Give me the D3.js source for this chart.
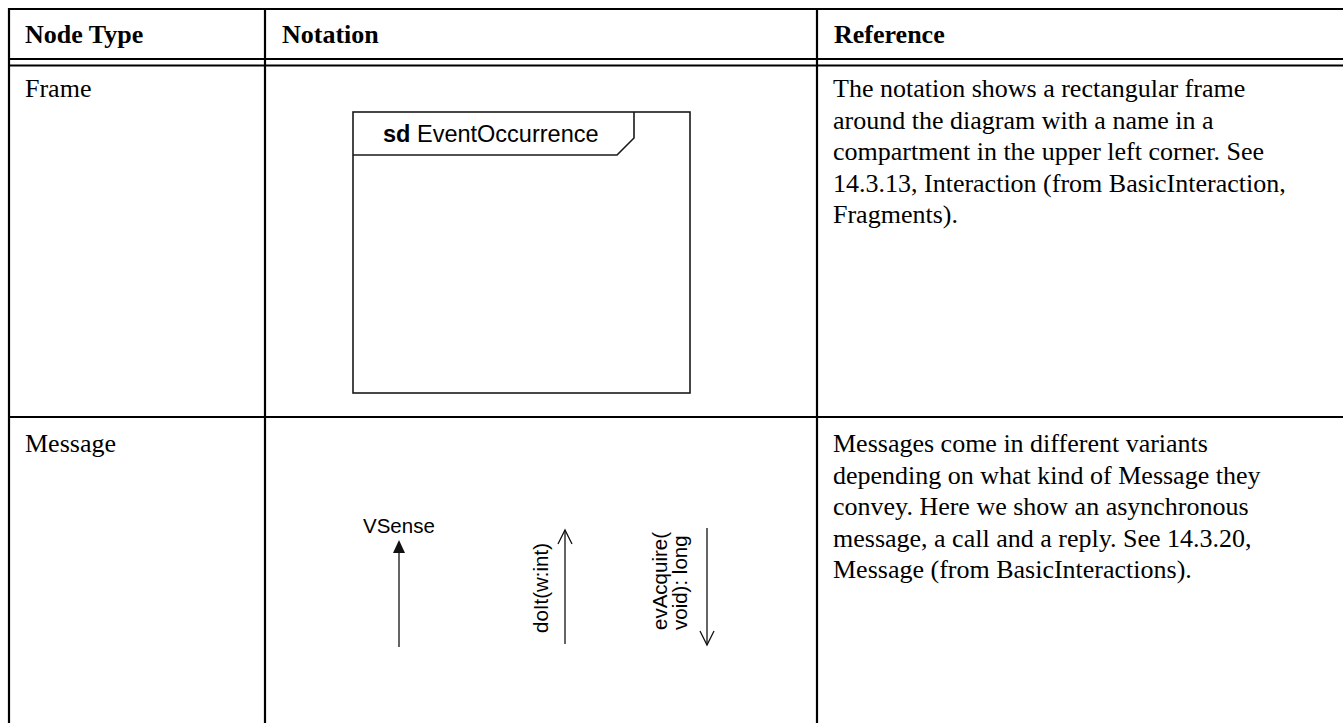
<!DOCTYPE html>
<html>
<head>
<meta charset="utf-8">
<script src="https://cdn.jsdelivr.net/npm/d3@7"></script>
<style>
  html, body { margin: 0; padding: 0; background: #fff; }
  svg { display: block; }
</style>
</head>
<body>
<svg id="chart" width="1343" height="723"></svg>
<script>
// ---------- data ----------
const columns = ["Node Type", "Notation", "Reference"];
const nodeTypes = ["Frame", "Message"];
const frameDescription = [
  "The notation shows a rectangular frame",
  "around the diagram with a name in a",
  "compartment in the upper left corner. See",
  "14.3.13, Interaction (from BasicInteraction,",
  "Fragments)."
];
const messageDescription = [
  "Messages come in different variants",
  "depending on what kind of Message they",
  "convey. Here we show an asynchronous",
  "message, a call and a reply. See 14.3.20,",
  "Message (from BasicInteractions)."
];
const frameKeyword = "sd";
const frameName = "EventOccurrence";
const messageLabels = ["VSense", "doIt(w:int)", ["evAcquire(", "void): long"]];
const messageKinds = ["async", "call", "reply"];

// ---------- layout ----------
const W = 1343, H = 723;
const svg = d3.select("#chart");
const serif = "'Liberation Serif', 'Times New Roman', serif";
const sans = "'Liberation Sans', Arial, sans-serif";

const colX = d3.scaleOrdinal().domain(columns).range([8, 265, 817]);
const textPad = 17;
const rowTop = d3.scaleOrdinal().domain(["header"].concat(nodeTypes)).range([9, 66, 417]);
const rowBaseline = d3.scaleOrdinal().domain(nodeTypes).range([97, 452]);
const lineH = 31.6;
const fs = 26;

// table lines
const black = "#000";
svg.append("line").attr("x1", 8).attr("x2", W).attr("y1", 9).attr("y2", 9)
  .attr("stroke", black).attr("stroke-width", 2.2);
svg.append("line").attr("x1", 9).attr("x2", 9).attr("y1", 8).attr("y2", H)
  .attr("stroke", black).attr("stroke-width", 2.2);
columns.slice(1).forEach(c => {
  svg.append("line").attr("x1", colX(c)).attr("x2", colX(c)).attr("y1", 8).attr("y2", H)
    .attr("stroke", black).attr("stroke-width", 2.2);
});
[59, 65.5].forEach(y => {
  svg.append("line").attr("x1", 8).attr("x2", W).attr("y1", y).attr("y2", y)
    .attr("stroke", black).attr("stroke-width", 2);
});
svg.append("line").attr("x1", 8).attr("x2", W).attr("y1", rowTop("Message")).attr("y2", rowTop("Message"))
  .attr("stroke", black).attr("stroke-width", 2.2);

// header
svg.selectAll("text.hdr").data(columns).join("text")
  .attr("class", "hdr")
  .attr("x", d => colX(d) + textPad)
  .attr("y", 43)
  .attr("font-family", serif).attr("font-weight", "bold").attr("font-size", fs)
  .attr("fill", black)
  .text(d => d);

// node type names
svg.selectAll("text.node").data(nodeTypes).join("text")
  .attr("class", "node")
  .attr("x", colX("Node Type") + textPad)
  .attr("y", d => rowBaseline(d))
  .attr("font-family", serif).attr("font-size", fs).attr("fill", black)
  .text(d => d);

// descriptions
[[nodeTypes[0], frameDescription], [nodeTypes[1], messageDescription]].forEach(([n, lines]) => {
  svg.append("g").selectAll("text").data(lines).join("text")
    .attr("x", colX("Reference") + textPad - 1)
    .attr("y", (d, i) => rowBaseline(n) + i * lineH)
    .attr("font-family", serif).attr("font-size", fs).attr("fill", black)
    .text(d => d);
});

// ---------- Frame notation ----------
const fx = d3.scaleLinear().domain([0, 1]).range([353, 690]);
const fy = d3.scaleLinear().domain([0, 1]).range([112, 393]);
const frameStroke = "#1a1a1a";
svg.append("rect")
  .attr("x", fx(0)).attr("y", fy(0)).attr("width", fx(1) - fx(0)).attr("height", fy(1) - fy(0))
  .attr("fill", "none").attr("stroke", frameStroke).attr("stroke-width", 1.6);
const tabR = 634, tabB = 155, cut = 17;
svg.append("path")
  .attr("d", d3.line()([[fx(0), tabB], [tabR - cut, tabB], [tabR, tabB - cut], [tabR, fy(0)]]))
  .attr("fill", "none").attr("stroke", frameStroke).attr("stroke-width", 1.6);
const ft = svg.append("text").attr("x", 383).attr("y", 142)
  .attr("font-family", sans).attr("font-size", 23.5).attr("fill", black);
ft.append("tspan").attr("font-weight", "bold").text(frameKeyword);
ft.append("tspan").text(" " + frameName);

// ---------- Message notation ----------
const msgX = d3.scaleOrdinal().domain(messageKinds).range([399, 565, 707]);
const mStroke = "#111";
const sw = 1.3;
const mfs = 20.5;
// async: filled arrow head up
{
  const x = msgX("async");
  svg.append("line").attr("x1", x).attr("x2", x).attr("y1", 552).attr("y2", 647)
    .attr("stroke", mStroke).attr("stroke-width", sw);
  svg.append("path").attr("d", d3.line()([[x, 540], [x - 6, 553], [x + 6, 553]]) + "Z")
    .attr("fill", mStroke);
  svg.append("text").attr("x", 363).attr("y", 533)
    .attr("font-family", sans).attr("font-size", mfs).attr("fill", black)
    .text(messageLabels[0]);
}
// call: open arrow head up
{
  const x = msgX("call");
  svg.append("line").attr("x1", x).attr("x2", x).attr("y1", 530).attr("y2", 644)
    .attr("stroke", mStroke).attr("stroke-width", sw);
  svg.append("path").attr("d", d3.line()([[x - 7, 544], [x, 530], [x + 7, 544]]))
    .attr("fill", "none").attr("stroke", mStroke).attr("stroke-width", sw);
  svg.append("text").attr("transform", `translate(548,633) rotate(-90)`)
    .attr("font-family", sans).attr("font-size", mfs).attr("fill", black)
    .text(messageLabels[1]);
}
// reply: open arrow head down
{
  const x = msgX("reply");
  svg.append("line").attr("x1", x).attr("x2", x).attr("y1", 528).attr("y2", 645)
    .attr("stroke", mStroke).attr("stroke-width", sw);
  svg.append("path").attr("d", d3.line()([[x - 7, 631], [x, 645], [x + 7, 631]]))
    .attr("fill", "none").attr("stroke", mStroke).attr("stroke-width", sw);
  messageLabels[2].forEach((t, i) => {
    svg.append("text").attr("transform", `translate(${667 + i * 20},630) rotate(-90)`)
      .attr("font-family", sans).attr("font-size", mfs).attr("fill", black)
      .text(t);
  });
}
</script>
</body>
</html>
